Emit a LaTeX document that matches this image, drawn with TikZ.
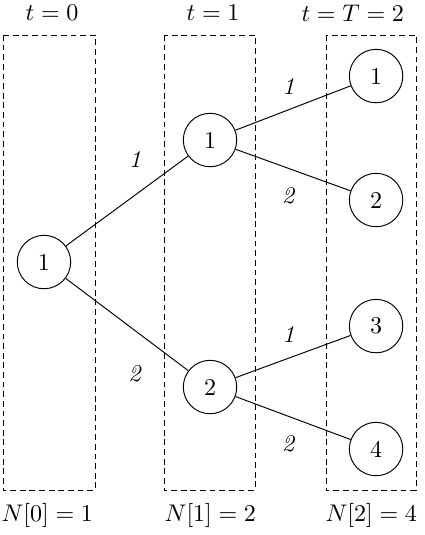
\documentclass[tikz,border=0pt]{standalone}
\usepackage{amsmath}
\usepackage{amssymb}
\usepackage{xcolor}
\usepackage{tikz}
\usetikzlibrary{shapes.geometric, arrows}

\tikzset{
    state/.style={circle, draw, thin, minimum size=0.78cm, inner sep=0pt},
    stage/.style={draw, thin, dash pattern=on 2.4pt off 1.6pt},
}

\begin{document}
\begin{tikzpicture}
        \useasboundingbox (0,0) rectangle (6.19,-7.81);

        % stages
        \draw[stage] (0.044,-0.511) rectangle (1.387,-7.154);
        \draw[stage] (2.394,-0.511) rectangle (3.723,-7.154);
        \draw[stage] (4.760,-0.511) rectangle (6.074,-7.154);

        \node (t0) at (0.76,-0.19) {$t=0$};
        \node (t1) at (3.11,-0.19) {$t=1$};
        \node (t2) at (5.15,-0.19) {$t=T=2$};

        \node (N0) at (0.69,-7.53) {$N[0]=1$};
        \node (N1) at (3.07,-7.53) {$N[1]=2$};
        \node (N2) at (5.42,-7.53) {$N[2]=4$};

        % scenario tree
        \node[state] (r) at (0.642,-3.825) {1};
        \node[state] (a) at (3.066,-2.044) {1};
        \node[state] (b) at (3.066,-5.650) {2};
        \node[state] (a1) at (5.490,-1.110) {1};
        \node[state] (a2) at (5.490,-2.920) {2};
        \node[state] (b1) at (5.490,-4.760) {3};
        \node[state] (b2) at (5.490,-6.555) {4};

        % r -> a, b
        \draw[-] (r) -- node[pos=0.565, above=2.8mm] {\textit{1}} (a);
        \draw[-] (r) -- node[pos=0.565, below=3.8mm] {\textit{2}} (b);

        % a -> a1, a2
        \draw[-] (a) -- node[pos=0.46, above=1mm] {\textit{1}} (a1);
        \draw[-] (a) -- node[pos=0.46, below=1.6mm] {\textit{2}} (a2);

        % b -> b1, b2
        \draw[-] (b) -- node[pos=0.46, above=1mm] {\textit{1}} (b1);
        \draw[-] (b) -- node[pos=0.46, below=1.6mm] {\textit{2}} (b2);
    \end{tikzpicture}
\end{document}
